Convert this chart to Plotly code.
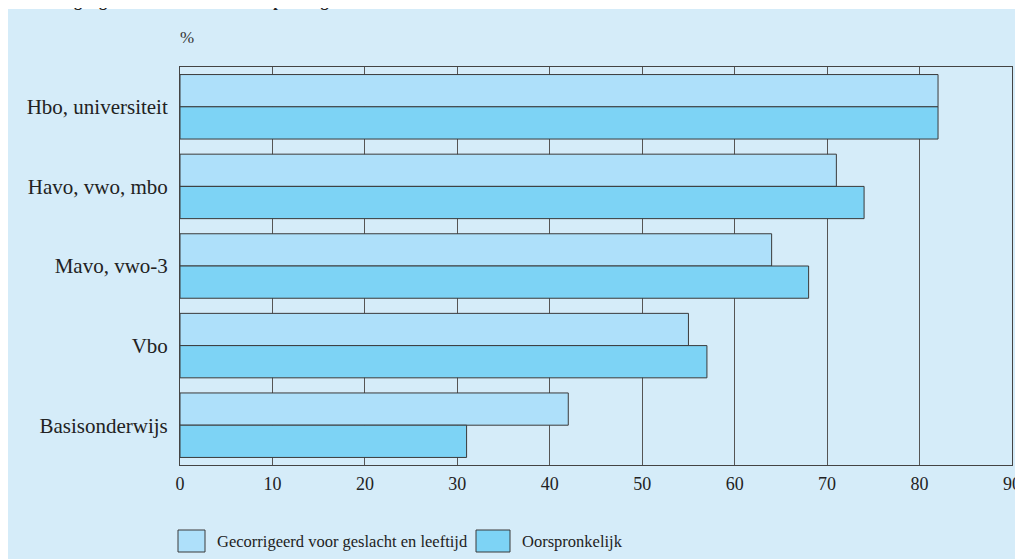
import plotly.graph_objects as go

categories = ["Hbo, universiteit", "Havo, vwo, mbo", "Mavo, vwo-3", "Vbo", "Basisonderwijs"]
series_names = ["Gecorrigeerd voor geslacht en leeftijd", "Oorspronkelijk"]
corrected = [82, 71, 64, 55, 42]
original = [82, 74, 68, 57, 31]
x_ticks = [0, 10, 20, 30, 40, 50, 60, 70, 80, 90]
title_text = "6.6.1  Toegang tot internet thuis naar opleiding, 2002"
unit_text = "%"

# page body has an 8px margin; the figure is sized to fit the window
OFF = 8
W, H = 1023 - OFF, 559 - OFF
L, R, T, B = 180 - OFF, 1012 - OFF, 67 - OFF, 465 - OFF
FONT = "Liberation Serif"
PANEL = "#d5ecf9"
LIGHT = "#aee0fa"
DARK = "#7dd3f5"
EDGE = "#3a3a3a"


def px_x(p):
    return (p - OFF - L) / (R - L)


def px_y(p):
    return (B - (p - OFF)) / (B - T)


fig = go.Figure()
fig.add_trace(go.Bar(y=categories, x=corrected, orientation="h", name=series_names[0],
                     marker=dict(color=LIGHT, line=dict(color=EDGE, width=1))))
fig.add_trace(go.Bar(y=categories, x=original, orientation="h", name=series_names[1],
                     marker=dict(color=DARK, line=dict(color=EDGE, width=1))))

shapes = [
    dict(type="rect", xref="paper", yref="paper", x0=px_x(8), x1=px_x(1040), y0=px_y(9), y1=px_y(580),
         fillcolor=PANEL, line=dict(width=0), layer="below"),
    dict(type="rect", xref="paper", yref="paper", x0=px_x(178), x1=px_x(205), y0=px_y(530), y1=px_y(552),
         fillcolor=LIGHT, line=dict(color=EDGE, width=1)),
    dict(type="rect", xref="paper", yref="paper", x0=px_x(476), x1=px_x(510), y0=px_y(530), y1=px_y(552),
         fillcolor=DARK, line=dict(color=EDGE, width=1)),
]

annotations = [
    dict(text="<b>" + title_text + "</b>", xref="paper", yref="paper", x=px_x(8), y=px_y(12),
         xanchor="left", yanchor="bottom", showarrow=False, font=dict(family=FONT, size=16, color="#222")),
    dict(text=unit_text, xref="paper", yref="paper", x=px_x(178), y=px_y(38), xanchor="left", yanchor="middle",
         showarrow=False, font=dict(family=FONT, size=17, color="#333")),
    dict(text=series_names[0], xref="paper", yref="paper", x=px_x(215), y=px_y(541), xanchor="left",
         yanchor="middle", showarrow=False, font=dict(family=FONT, size=16.5, color="#222")),
    dict(text=series_names[1], xref="paper", yref="paper", x=px_x(520), y=px_y(541), xanchor="left",
         yanchor="middle", showarrow=False, font=dict(family=FONT, size=16.5, color="#222")),
]

fig.update_layout(
    width=W, height=H,
    margin=dict(l=L, r=W - R, t=T, b=H - B, pad=0, autoexpand=False),
    paper_bgcolor="white",
    plot_bgcolor="white",
    barmode="group",
    bargap=0.19,
    bargroupgap=0,
    showlegend=False,
    shapes=shapes,
    annotations=annotations,
    font=dict(family=FONT, size=18, color="#222"),
    xaxis=dict(range=[0, 90], tickvals=x_ticks, showgrid=True, gridcolor="#555", gridwidth=1,
               showline=True, linecolor="#444", linewidth=1, mirror=True, zeroline=False, automargin=False,
               ticks="", ticklabelstandoff=2, tickfont=dict(family=FONT, size=18, color="#222")),
    yaxis=dict(autorange="reversed", showgrid=False, showline=True, linecolor="#444", linewidth=1,
               mirror=True, ticks="", ticklabelstandoff=7, automargin=False,
               tickfont=dict(family=FONT, size=21, color="#222")),
)

fig.write_html("out.html")
